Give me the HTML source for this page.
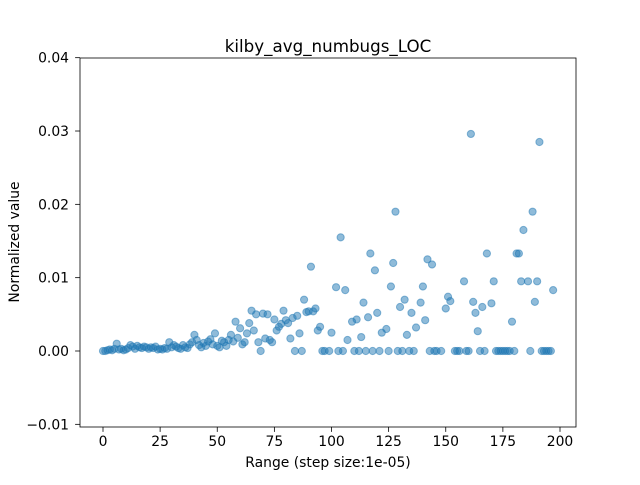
<!DOCTYPE html>
<html><head><meta charset="utf-8"><style>body{margin:0;background:#fff}svg{font-family:"DejaVu Sans","Liberation Sans",sans-serif}</style></head>
<body>
<svg id="c" width="640" height="480" xmlns="http://www.w3.org/2000/svg"></svg>
<script>
const xTicks=[0,25,50,75,100,125,150,175,200];
const yTicks=[-0.01,0.00,0.01,0.02,0.03,0.04];
const yTickLabels=["−0.01","0.00","0.01","0.02","0.03","0.04"];
const xs=[0,1,2,3,4,5,6,7,8,9,10,11,12,13,14,15,16,17,18,19,20,21,22,23,24,25,26,27,28,29,30,31,32,33,34,35,36,37,38,39,40,41,42,43,44,45,46,47,48,49,50,51,52,53,54,55,56,57,58,59,60,61,62,63,64,65,66,67,68,69,70,71,72,73,74,75,76,77,78,79,80,81,82,83,84,85,86,87,88,89,90,91,92,93,94,95,96,97,99,100,102,103,104,105,106,107,109,110,111,112,113,114,115,116,117,118,119,120,121,122,124,125,126,127,128,129,130,131,132,133,134,135,136,137,139,140,141,142,143,144,145,146,148,150,151,152,154,155,156,158,159,160,161,162,163,164,165,166,167,168,170,171,172,173,174,175,176,177,178,179,180,181,182,183,184,186,187,188,189,190,191,192,193,194,195,196,197];
const ys=[0,0,0.0001,0.0002,0.0001,0.0003,0.001,0.0002,0.0003,0.0001,0.0002,0.0004,0.0008,0.0006,0.0003,0.0007,0.0005,0.0004,0.0006,0.0005,0.0003,0.0005,0.0004,0.0006,0.0002,0.0003,0.0002,0.0004,0.0003,0.0012,0.0005,0.0008,0.0006,0.0004,0.0003,0.0008,0.0005,0.0004,0.0009,0.0012,0.0022,0.0015,0.0008,0.0005,0.0011,0.0007,0.0013,0.0016,0.0009,0.0024,0.0007,0.0005,0.0014,0.0012,0.0007,0.0015,0.0022,0.0013,0.004,0.0018,0.0031,0.0009,0.0012,0.0024,0.0038,0.0055,0.0028,0.005,0.0012,0,0.0051,0.0017,0.005,0.0015,0.0012,0.0043,0.0028,0.0033,0.0037,0.0055,0.0042,0.0038,0.0017,0.0045,0,0.0048,0.0024,0,0.007,0.0053,0.0054,0.0115,0.0054,0.0058,0.0028,0.0033,0,0,0,0.0025,0.0087,0,0.0155,0,0.0083,0.0015,0.004,0,0.0043,0,0.0019,0.0066,0,0.0046,0.0133,0,0.011,0.0052,0,0.0025,0.003,0,0.0088,0.012,0.019,0,0.006,0,0.007,0.0022,0,0.0052,0,0.0032,0.0066,0.0088,0.0042,0.0125,0,0.0118,0,0,0,0.0058,0.0074,0.0068,0,0,0,0.0095,0,0,0.0296,0.0067,0.0052,0.0027,0,0.006,0,0.0133,0.0065,0.0095,0,0,0,0,0,0,0,0.004,0,0.0133,0.0133,0.0095,0.0165,0.0095,0,0.019,0.0067,0.0095,0.0285,0,0,0,0,0,0.0083];
const L=80,R=576,T=58,B=427;
const X=v=>103+(v-0)*(560-103)/200;
const Y=v=>351-v*7333;
const s=document.getElementById('c');
const NS="http://www.w3.org/2000/svg";
function mk(t,a,p){const e=document.createElementNS(NS,t);for(const k in a)e.setAttribute(k,a[k]);(p||s).appendChild(e);return e;}
const pts=mk('g',{});


const n=Math.min(xs.length,ys.length);
for(let i=0;i<n;i++){const c=mk('circle',{cx:X(xs[i]),cy:Y(ys[i]),r:3.6,fill:'#1f77b4','fill-opacity':0.5,stroke:'#1f77b4','stroke-opacity':0.5,'stroke-width':1},pts);

}
const fr=mk('rect',{x:L,y:T,width:R-L,height:B-T,fill:'none',stroke:'#000','stroke-width':0.8});


xTicks.forEach(v=>{mk('line',{x1:X(v),x2:X(v),y1:B,y2:B+4.9,stroke:'#000','stroke-width':0.8});
const t=mk('text',{x:X(v),y:B+19,'text-anchor':'middle','font-size':13.9});t.textContent=v;

});
yTicks.forEach((v,i)=>{mk('line',{x1:L-4.9,x2:L,y1:Y(v),y2:Y(v),stroke:'#000','stroke-width':0.8});
const t=mk('text',{x:L-11,y:Y(v)+5,'text-anchor':'end','font-size':13.9});t.textContent=yTickLabels[i];

});
const ti=mk('text',{x:328,y:52,'text-anchor':'middle','font-size':16.7});ti.textContent='kilby_avg_numbugs_LOC';


const xl=mk('text',{x:328,y:467,'text-anchor':'middle','font-size':13.9});xl.textContent='Range (step size:1e-05)';


const yl=mk('text',{x:19,y:242,'text-anchor':'middle','font-size':13.9,transform:'rotate(-90 19 242)'});yl.textContent='Normalized value';


</script>
</body></html>
